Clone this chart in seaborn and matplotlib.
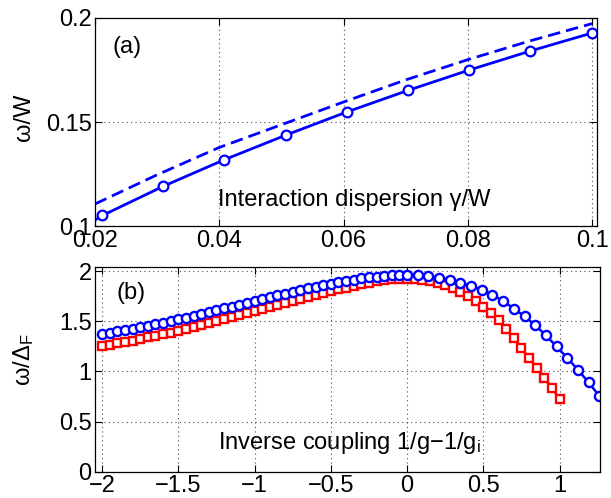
import numpy as np
import pandas as pd
import seaborn as sns
import matplotlib.pyplot as plt

# panel (a): frequency vs interaction dispersion
gamma_start = 0.02
omega_start = 0.1031
gamma_marks = [0.0212, 0.0310, 0.0408, 0.0507, 0.0605, 0.0704, 0.0802, 0.0900, 0.1000]
omega_marks = [0.1053, 0.1193, 0.1320, 0.1438, 0.1549, 0.1653, 0.1750, 0.1841, 0.1928]
gamma_dash = [0.02, 0.03, 0.04, 0.05, 0.06, 0.07, 0.08, 0.09, 0.10]
omega_dash = [0.1108, 0.1248, 0.1379, 0.1488, 0.1597, 0.1703, 0.1800, 0.1890, 0.1973]

# panel (b): frequency vs inverse coupling
x_left = np.linspace(-2, 0, 41)
blue_left = [1.375, 1.387, 1.399, 1.412, 1.425, 1.440, 1.455, 1.471, 1.487, 1.503,
             1.520, 1.537, 1.555, 1.573, 1.591, 1.610, 1.629, 1.648, 1.667, 1.686,
             1.705, 1.723, 1.741, 1.759, 1.777, 1.795, 1.812, 1.829, 1.846, 1.862,
             1.877, 1.891, 1.904, 1.916, 1.928, 1.938, 1.947, 1.954, 1.960, 1.965,
             1.967]
x_blue_right = [0.07, 0.14, 0.21, 0.28, 0.35, 0.42, 0.49, 0.56, 0.63, 0.70,
                0.77, 0.84, 0.91, 0.98, 1.05, 1.12, 1.19, 1.26]
blue_right = [1.964, 1.953, 1.935, 1.912, 1.885, 1.853, 1.815, 1.765, 1.702, 1.628,
              1.550, 1.462, 1.360, 1.250, 1.135, 1.018, 0.890, 0.757]
red_left = [1.255, 1.268, 1.281, 1.294, 1.309, 1.325, 1.340, 1.356, 1.372, 1.388,
            1.405, 1.423, 1.442, 1.461, 1.480, 1.500, 1.520, 1.540, 1.560, 1.580,
            1.600, 1.620, 1.640, 1.660, 1.680, 1.700, 1.720, 1.740, 1.761, 1.781,
            1.800, 1.819, 1.837, 1.854, 1.870, 1.886, 1.899, 1.910, 1.918, 1.923,
            1.925]
x_red_right = np.linspace(0.05, 1.0, 20)
red_right = [1.921, 1.913, 1.900, 1.884, 1.862, 1.832, 1.796, 1.754, 1.705, 1.648,
             1.583, 1.510, 1.425, 1.330, 1.234, 1.134, 1.035, 0.935, 0.836, 0.723]

sns.set_style("ticks")
plt.rcParams["font.family"] = ["Liberation Sans", "DejaVu Sans"]
plt.rcParams["mathtext.fontset"] = "custom"
plt.rcParams["mathtext.rm"] = "Liberation Sans"
plt.rcParams["mathtext.it"] = "Liberation Sans:italic"
plt.rcParams["axes.unicode_minus"] = True
plt.rcParams["text.color"] = "black"
plt.rcParams["xtick.color"] = "black"
plt.rcParams["ytick.color"] = "black"

fs = 17
fig = plt.figure(figsize=(6.11, 4.98), dpi=100)
ax1 = fig.add_axes([0.1555, 0.5452, 0.8216, 0.4187])
ax2 = fig.add_axes([0.1555, 0.0528, 0.8265, 0.4116])

blue = (0, 0, 1)
red = (1, 0, 0)

# top panel
sns.lineplot(x=gamma_dash, y=omega_dash, ax=ax1, color=blue, lw=2,
             estimator=None, errorbar=None, linestyle=(0, (4.5, 2.2)))
sns.lineplot(x=[gamma_start] + gamma_marks, y=[omega_start] + omega_marks, ax=ax1,
             color=blue, lw=2, estimator=None, errorbar=None, marker="o",
             markevery=list(range(1, 10)), markersize=7, markerfacecolor="white",
             markeredgecolor=blue, markeredgewidth=1.6)
ax1.set_xlim(0.02, 0.1008)
ax1.set_ylim(0.1, 0.2)
ax1.set_xticks([0.02, 0.04, 0.06, 0.08, 0.1])
ax1.set_xticklabels(["0.02", "0.04", "0.06", "0.08", "0.1"])
ax1.set_yticks([0.1, 0.15, 0.2])
ax1.set_yticklabels(["0.1", "0.15", "0.2"])
ax1.text(0.064, 0.861, "(a)", transform=ax1.transAxes, ha="center", va="center", fontsize=fs)
ax1.text(0.516, 0.098, "Interaction dispersion γ/W", transform=ax1.transAxes,
         ha="center", va="baseline", fontsize=fs)

# bottom panel
x_red = np.concatenate([x_left, x_red_right])
y_red = red_left + red_right
x_blue = np.concatenate([x_left, x_blue_right])
y_blue = blue_left + blue_right
sns.lineplot(x=x_red, y=y_red, ax=ax2, color=red, lw=1.8, estimator=None, errorbar=None,
             marker="s", markersize=5.6, markerfacecolor="white",
             markeredgecolor=red, markeredgewidth=1.7)
sns.lineplot(x=x_blue, y=y_blue, ax=ax2, color=blue, lw=1.8, estimator=None, errorbar=None,
             marker="o", markersize=6.6, markerfacecolor="white",
             markeredgecolor=blue, markeredgewidth=1.7)
ax2.set_xlim(-2.046, 1.265)
ax2.set_ylim(0, 2.045)
ax2.set_xticks([-2, -1.5, -1, -0.5, 0, 0.5, 1])
ax2.set_xticklabels(["\u22122", "\u22121.5", "\u22121", "\u22120.5", "0", "0.5", "1"])
ax2.set_yticks([0, 0.5, 1, 1.5, 2])
ax2.set_yticklabels(["0", "0.5", "1", "1.5", "2"])
ax2.text(0.071, 0.872, "(b)", transform=ax2.transAxes, ha="center", va="center", fontsize=fs)
ax2.text(0.503, 0.111, "Inverse coupling 1/g\u22121/g$_\\mathrm{i}$", transform=ax2.transAxes,
         ha="center", va="baseline", fontsize=fs)

for ax in (ax1, ax2):
    ax.set_xlabel("")
    ax.set_ylabel("")
    ax.grid(True, linestyle=(0, (1, 3)), color="0.3", linewidth=0.8)
    ax.tick_params(direction="in", top=True, right=True, length=5, width=0.8,
                   labelsize=fs, pad=2.5, colors="black")
    for sp in ax.spines.values():
        sp.set_visible(True)
        sp.set_color("black")
        sp.set_linewidth(0.9)

fig.text(24 / 611, 1 - 117 / 498, "ω/W", rotation=90, ha="center", va="center", fontsize=fs)
fig.text(24 / 611, 1 - 360 / 498, "ω/Δ$_\\mathrm{F}$", rotation=90, ha="center", va="center",
         fontsize=fs)

fig.savefig("out.png", dpi=100)
